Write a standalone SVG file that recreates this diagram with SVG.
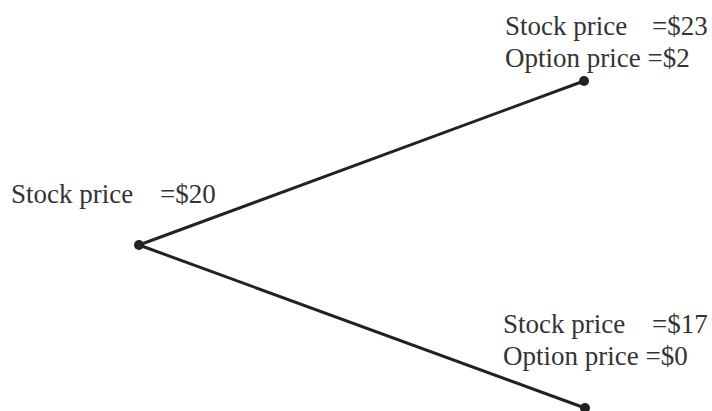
<svg xmlns="http://www.w3.org/2000/svg" width="712" height="411" viewBox="0 0 712 411">
<style>
.t{font-family:"Liberation Serif","Times New Roman",serif;font-size:27px;fill:#333}
.e{stroke:#222;stroke-width:3;fill:none}
.d{fill:#222}
</style>
<rect width="712" height="411" fill="#fff"/>
<g id="connectors">
<line class="e" x1="139" y1="245" x2="584" y2="81"/>
<line class="e" x1="139" y1="245" x2="585" y2="408"/>
</g>
<g id="root">
<circle class="d" cx="139" cy="245" r="5"/>
<text class="t" x="11" y="203">Stock price<tspan x="160">=$20</tspan></text>
</g>
<g id="up">
<circle class="d" cx="584" cy="81" r="5"/>
<text class="t" x="505" y="35">Stock price<tspan x="652">=$23</tspan></text>
<text class="t" x="505" y="67">Option price =$2</text>
</g>
<g id="down">
<circle class="d" cx="585" cy="408" r="5"/>
<text class="t" x="503" y="333">Stock price<tspan x="652">=$17</tspan></text>
<text class="t" x="503" y="365">Option price =$0</text>
</g>
</svg>
